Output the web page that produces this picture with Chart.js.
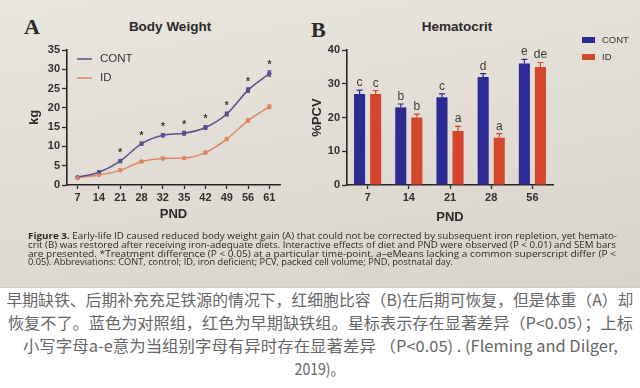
<!DOCTYPE html>
<html>
<head>
<meta charset="utf-8">
<script src="https://cdn.jsdelivr.net/npm/chart.js@4.4.1/dist/chart.umd.min.js"></script>
<style>
  html, body { margin: 0; padding: 0; }
  body { width: 640px; height: 388px; position: relative; overflow: hidden; background: #fff; font-family: "Liberation Sans", Arial, sans-serif; }
  #photo { position: absolute; left: 0; top: 0; width: 640px; height: 287px;
    background: linear-gradient(170deg, #e9e6df 0%, #e2ded6 45%, #d8d3c9 100%); }
  #chartA { position: absolute; left: 0; top: 0; }
  #chartB { position: absolute; left: 300px; top: 0; }
  .letter { position: absolute; font-family: "Liberation Serif", "DejaVu Serif", serif; font-weight: bold; font-size: 22px; color: #2a2a2a; }
  .ptitle { position: absolute; font-weight: bold; font-size: 13.5px; color: #2a2a2a; transform: translateX(-50%); white-space: nowrap; }
  #caption { position: absolute; left: 28px; top: 232px; font-family: "Open Sans", sans-serif; font-size: 9.6px; line-height: 8.8px; color: #2b2926; }
  #caption .fit { display: block; white-space: nowrap; transform-origin: 0 0; width: max-content; }
  #zh { position: absolute; left: 0; top: 287px; width: 640px; height: 101px; background: #fff;
    border-top: 1px solid #d0ccc4; font-family: "Noto Sans CJK SC", sans-serif; font-size: 15.5px; line-height: 23px; color: #666; }
  #zh .fit { display: block; white-space: nowrap; width: max-content; margin: 0 auto; transform-origin: 50% 0; }
</style>
</head>
<body>
<div id="photo"></div>
<div class="letter" style="left:24px; top:14px;">A</div>
<div class="letter" style="left:311px; top:17px;">B</div>
<div class="ptitle" style="left:170px; top:19px;">Body Weight</div>
<div class="ptitle" style="left:457px; top:19px;">Hematocrit</div>
<canvas id="chartA" width="300" height="235"></canvas>
<canvas id="chartB" width="340" height="235"></canvas>
<div id="caption">
  <span class="fit" data-w="589"><b>Figure 3.</b> Early-life ID caused reduced body weight gain (A) that could not be corrected by subsequent iron repletion, yet hemato-</span>
  <span class="fit" data-w="588">crit (B) was restored after receiving iron-adequate diets. Interactive effects of diet and PND were observed (P &lt; 0.01) and SEM bars</span>
  <span class="fit" data-w="588">are presented. *Treatment difference (P &lt; 0.05) at a particular time-point. a–eMeans lacking a common superscript differ (P &lt;</span>
  <span class="fit" data-w="425">0.05). Abbreviations: CONT, control; ID, iron deficient; PCV, packed cell volume; PND, postnatal day.</span>
</div>
<div id="zh">
  <span class="fit" data-w="627">早期缺铁、后期补充充足铁源的情况下，红细胞比容（B)在后期可恢复，但是体重（A）却</span>
  <span class="fit" data-w="625">恢复不了。蓝色为对照组，红色为早期缺铁组。星标表示存在显著差异（P&lt;0.05）；上标</span>
  <span class="fit" data-w="595">小写字母a-e意为当组别字母有异时存在显著差异 （P&lt;0.05) . (Fleming and Dilger,</span>
  <span class="fit" data-w="50">2019)。</span>
</div>
<script>
// body weight (kg) by postnatal day
const bwDays = ['7', '14', '21', '28', '32', '35', '42', '49', '56', '61'];
const bwCont = [2.0, 3.3, 6.2, 10.7, 12.9, 13.4, 14.9, 18.4, 24.6, 28.9];
const bwId = [1.9, 2.6, 3.8, 6.1, 6.9, 7.0, 8.4, 11.9, 16.7, 20.3];
const bwContErr = [0.2, 0.3, 0.4, 0.4, 0.4, 0.5, 0.5, 0.5, 0.6, 0.7];
const bwIdErr = [0.2, 0.2, 0.3, 0.3, 0.3, 0.3, 0.4, 0.4, 0.5, 0.5];
const bwStar = [false, false, true, true, true, true, true, true, true, true];

// hematocrit (%PCV)
const hctDays = ['7', '14', '21', '28', '56'];
const hctCont = [27, 23, 26, 32, 36];
const hctId = [27, 20, 16, 14, 35];
const hctContErr = [1.1, 1.0, 1.0, 1.0, 1.2];
const hctIdErr = [1.0, 1.0, 1.4, 1.2, 1.3];
const hctContLetters = ['c', 'b', 'c', 'd', 'e'];
const hctIdLetters = ['c', 'b', 'a', 'a', 'de'];

const axisColor = '#262626';
const tickFont = { family: 'Liberation Sans', weight: 'bold', size: 11 };
const titleFont = { family: 'Liberation Sans', weight: 'bold', size: 13 };

function fitLines(sel) {
    document.querySelectorAll(sel).forEach(el => {
        const w = parseFloat(el.dataset.w);
        const nat = el.getBoundingClientRect().width;
        el.style.transform = 'scaleX(' + (w / nat) + ')';
    });
}
fitLines('#caption .fit');
fitLines('#zh .fit');

// error bars, stars, letters and legend
const marks = {
    id: 'marks',
    afterDatasetsDraw(chart, args, opts) {
        const ctx = chart.ctx;
        const ys = chart.scales.y;
        ctx.save();
        chart.data.datasets.forEach((ds, di) => {
            const meta = chart.getDatasetMeta(di);
            meta.data.forEach((el, i) => {
                const v = ds.data[i];
                const e = ds.err[i];
                const top = ys.getPixelForValue(v + e);
                const bot = opts.bars ? ys.getPixelForValue(v) : ys.getPixelForValue(v - e);
                const cap = opts.bars ? 3 : 2;
                ctx.strokeStyle = ds.borderColor;
                ctx.lineWidth = 1.2;
                ctx.beginPath();
                ctx.moveTo(el.x, top); ctx.lineTo(el.x, bot);
                ctx.moveTo(el.x - cap, top); ctx.lineTo(el.x + cap, top);
                if (!opts.bars) { ctx.moveTo(el.x - cap, bot); ctx.lineTo(el.x + cap, bot); }
                ctx.stroke();
                if (ds.letters) {
                    ctx.fillStyle = '#3a3a3a';
                    ctx.font = '12px "Liberation Sans"';
                    ctx.textAlign = 'center';
                    ctx.textBaseline = 'alphabetic';
                    ctx.fillText(ds.letters[i], el.x, top - 4);
                }
                if (ds.stars && ds.stars[i]) {
                    ctx.fillStyle = '#333';
                    ctx.font = 'bold 10px "Liberation Sans"';
                    ctx.textAlign = 'center';
                    ctx.textBaseline = 'top';
                    ctx.fillText('*', el.x, top - 11);
                }
            });
        });
        // legend
        ctx.textAlign = 'left';
        ctx.textBaseline = 'middle';
        chart.data.datasets.forEach((ds, di) => {
            const y = opts.legY[di];
            ctx.fillStyle = ds.borderColor;
            ctx.strokeStyle = ds.borderColor;
            if (opts.bars) {
                ctx.fillRect(opts.legX, y - 3, 13, 6);
            } else {
                ctx.lineWidth = 1.5;
                ctx.beginPath(); ctx.moveTo(opts.legX, y); ctx.lineTo(opts.legX + 15, y); ctx.stroke();
            }
            ctx.fillStyle = '#333';
            ctx.font = opts.legFont;
            ctx.fillText(ds.label, opts.legTextX, y);
        });
        ctx.restore();
    }
};

function axes(yMax, yStep, yTitle, yWidth, yTitlePad, xTitlePad) {
    return {
        x: {
            offset: true,
            grid: { offset: false, drawOnChartArea: false, tickLength: 4, tickColor: axisColor, tickWidth: 1.3 },
            border: { color: axisColor, width: 1.6 },
            ticks: { color: '#303030', font: tickFont, padding: 2, maxRotation: 0, autoSkip: false },
            title: { display: true, text: 'PND', color: '#2a2a2a', font: titleFont, padding: { top: 0, bottom: xTitlePad } },
            afterFit(s) { s.height = 50; }
        },
        y: {
            min: 0, max: yMax,
            grid: { drawOnChartArea: false, tickLength: 5, tickColor: axisColor, tickWidth: 1.3 },
            border: { color: axisColor, width: 1.6 },
            ticks: { stepSize: yStep, color: '#303030', font: tickFont, padding: 2 },
            title: { display: true, text: yTitle, color: '#2a2a2a', font: titleFont, padding: { top: yTitlePad, bottom: 0 } },
            afterFit(s) { s.width = yWidth; }
        }
    };
}

new Chart(document.getElementById('chartA'), {
    type: 'line',
    data: {
        labels: bwDays,
        datasets: [
            { label: 'CONT', data: bwCont, err: bwContErr, stars: bwStar, borderColor: '#5a4d8c', backgroundColor: '#5a4d8c',
              borderWidth: 1.5, pointRadius: 1.5, cubicInterpolationMode: 'monotone' },
            { label: 'ID', data: bwId, err: bwIdErr, borderColor: '#de8466', backgroundColor: '#de8466',
              borderWidth: 1.5, pointRadius: 1.5, cubicInterpolationMode: 'monotone' }
        ]
    },
    options: {
        responsive: false,
        animation: false,
        layout: { padding: { top: 50, right: 20, left: 0, bottom: 0 } },
        plugins: {
            legend: { display: false }, tooltip: { enabled: false },
            marks: { bars: false, legX: 77, legTextX: 100, legY: [59, 78], legFont: '11.5px "Liberation Sans"' }
        },
        scales: axes(35, 5, 'kg', 67, 27, 13)
    },
    plugins: [marks]
});

new Chart(document.getElementById('chartB'), {
    type: 'bar',
    data: {
        labels: hctDays,
        datasets: [
            { label: 'CONT', data: hctCont, err: hctContErr, letters: hctContLetters, borderColor: '#2d2a94', backgroundColor: '#2d2a94',
              borderWidth: 0, categoryPercentage: 0.78, barPercentage: 0.69 },
            { label: 'ID', data: hctId, err: hctIdErr, letters: hctIdLetters, borderColor: '#d5472c', backgroundColor: '#d5472c',
              borderWidth: 0, categoryPercentage: 0.78, barPercentage: 0.69 }
        ]
    },
    options: {
        responsive: false,
        animation: false,
        layout: { padding: { top: 50, right: 87, left: 0, bottom: 0 } },
        plugins: {
            legend: { display: false }, tooltip: { enabled: false },
            marks: { bars: true, legX: 282, legTextX: 302, legY: [40, 57], legFont: '9.5px "Liberation Sans"' }
        },
        scales: axes(40, 10, '%PCV', 47, 10, 10)
    },
    plugins: [marks]
});
</script>
</body>
</html>
